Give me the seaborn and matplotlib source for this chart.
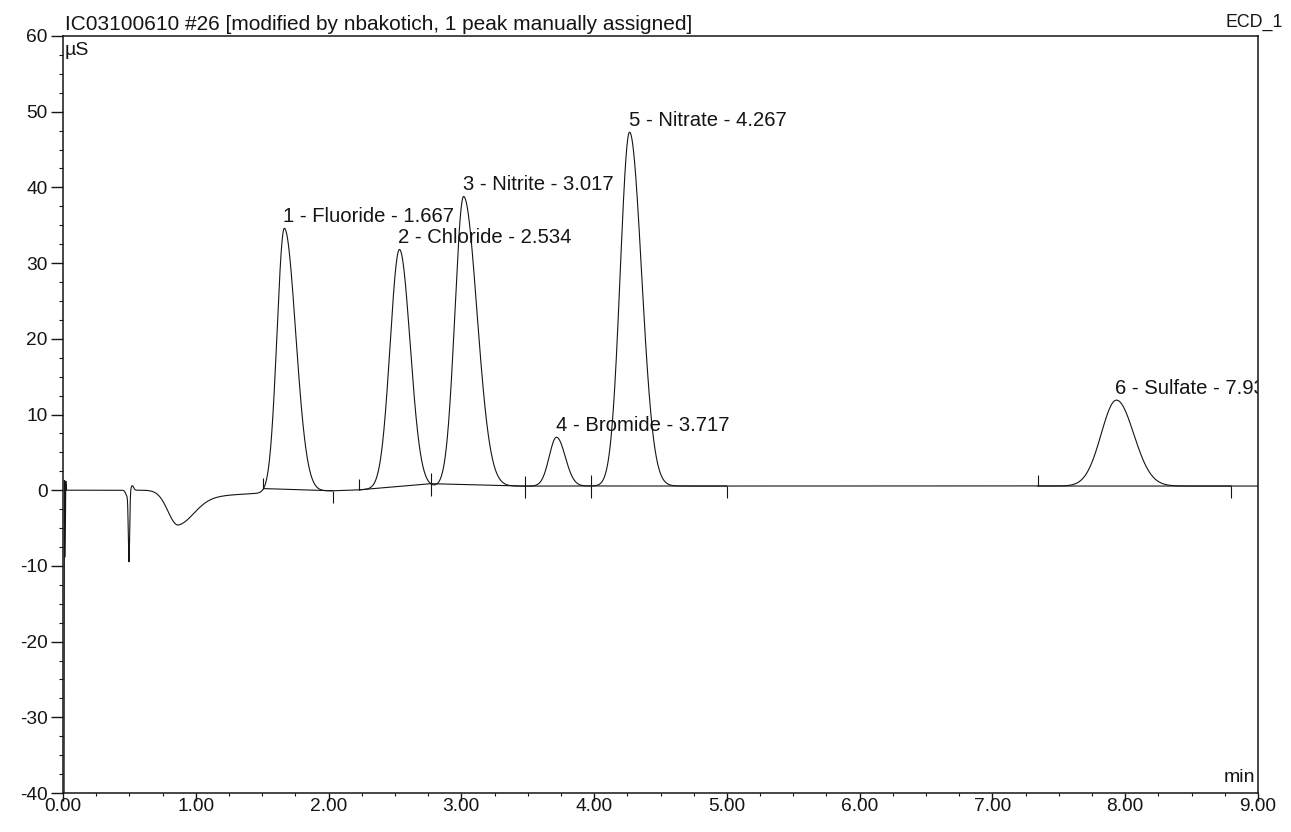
import numpy as np
import pandas as pd
import matplotlib
matplotlib.use("Agg")
import matplotlib.pyplot as plt
from matplotlib.ticker import MultipleLocator, FormatStrFormatter
from matplotlib.transforms import offset_copy
import seaborn as sns

# ---- peak table -------------------------------------------------------
peak_numbers = [1, 2, 3, 4, 5, 6]
peak_names = ["Fluoride", "Chloride", "Nitrite", "Bromide", "Nitrate", "Sulfate"]
retention_times = [1.667, 2.534, 3.017, 3.717, 4.267, 7.934]   # min
apex_heights = [34.6, 31.8, 38.8, 7.0, 47.3, 11.9]             # µS
sigma_left = [0.055, 0.070, 0.065, 0.055, 0.070, 0.115]        # min
sigma_right = [0.085, 0.080, 0.100, 0.065, 0.090, 0.130]       # min

# integration windows (peak start / peak end)
window_start = [1.51, 2.23, 2.77, 3.48, 3.98, 7.34]
window_end = [2.03, 2.77, 3.48, 3.98, 5.00, 8.80]

# injection transient at the very start of the run
inject_t = [0.000, 0.008, 0.011, 0.016, 0.021, 0.027]
inject_y = [-45.0, -45.0, 1.3, -8.8, 1.2, 0.0]

# system disturbance near 0.5 min: centre, amplitude, width
dist_center = [0.485, 0.497, 0.522]
dist_amp = [-0.8, -9.0, 0.6]
dist_sigma = [0.012, 0.005, 0.010]

# water dip: centre, depth, left/right widths, slow recovery tail
dip_center = 0.866
dip_depth = -4.6
dip_sigma_left = 0.075
dip_sigma_right = 0.12
dip_tail_amp = -1.4
dip_tail_tau = 0.5

# baseline drift step
drift_level = 0.55
drift_mid = 2.45
drift_width = 0.2

title = "IC03100610 #26 [modified by nbakotich, 1 peak manually assigned]"
channel = "ECD_1"

# ---- build the detector trace ---------------------------------------
t = np.round(np.arange(0.030, 9.0005, 0.001), 4)

base = np.zeros_like(t)
for c, a, s in zip(dist_center, dist_amp, dist_sigma):
    base += a * np.exp(-0.5 * ((t - c) / s) ** 2)

d = t - dip_center
base += np.where(
    d < 0,
    dip_depth * np.exp(-0.5 * (d / dip_sigma_left) ** 2),
    (dip_depth - dip_tail_amp) * np.exp(-0.5 * (d / dip_sigma_right) ** 2)
    + dip_tail_amp * np.exp(-np.clip(d, 0, None) / dip_tail_tau),
)
base += drift_level / (1 + np.exp(-(t - drift_mid) / drift_width))

signal = base.copy()
for tr, h, sl, sr in zip(retention_times, apex_heights, sigma_left, sigma_right):
    amp = h - np.interp(tr, t, base)
    s = np.where(t < tr, sl, sr)
    signal += amp * np.exp(-0.5 * ((t - tr) / s) ** 2)

df = pd.DataFrame({
    "time": np.concatenate([inject_t, t]),
    "signal": np.concatenate([inject_y, signal]),
})

# ---- figure -----------------------------------------------------------
sns.set_style("ticks")
plt.rcParams["font.family"] = ["Liberation Sans", "DejaVu Sans"]
plt.rcParams["axes.unicode_minus"] = False
ink = "#151515"

W, H = 1291, 832
fig = plt.figure(figsize=(W / 100, H / 100), dpi=100)
ax = fig.add_axes([63 / W, 39 / H, 1195 / W, 757 / H])

sns.lineplot(data=df, x="time", y="signal", estimator=None, sort=False,
             color=ink, linewidth=0.8, ax=ax)

# integration baselines and delimiter marks
for s, e in zip(window_start, window_end):
    ys = np.interp(s, df["time"], df["signal"])
    ye = np.interp(e, df["time"], df["signal"])
    ax.plot([s, e], [ys, ye], color=ink, linewidth=0.8)
    ax.vlines(s, ys, ys + 1.4, color=ink, linewidth=0.8)
    ax.vlines(e, ye - 1.6, ye, color=ink, linewidth=0.8)

# peak labels
label_tf = offset_copy(ax.transData, fig=fig, x=-1, y=6, units="dots")
for n, name, tr, h in zip(peak_numbers, peak_names, retention_times, apex_heights):
    ax.text(tr, h, f"{n} - {name} - {tr:.3f}", transform=label_tf,
            ha="left", va="baseline", fontsize=14.6, color=ink, clip_on=True)

ax.set_xlim(0, 9)
ax.set_ylim(-40, 60)
ax.set_xlabel("")
ax.set_ylabel("")
ax.xaxis.set_major_locator(MultipleLocator(1))
ax.xaxis.set_minor_locator(MultipleLocator(0.25))
ax.xaxis.set_major_formatter(FormatStrFormatter("%.2f"))
ax.yaxis.set_major_locator(MultipleLocator(10))
ax.yaxis.set_minor_locator(MultipleLocator(2.5))

ax.tick_params(axis="x", which="major", direction="out", length=5.8, width=1.0,
               pad=-2.3, labelsize=13.8, colors=ink)
ax.tick_params(axis="x", which="minor", direction="out", length=2.2, width=0.8, colors=ink)
ax.tick_params(axis="y", which="major", direction="out", length=8.6, width=1.0,
               pad=2.5, labelsize=13.8, colors=ink)
ax.tick_params(axis="y", which="minor", direction="out", length=2.8, width=0.8, colors=ink)

for sp in ax.spines.values():
    sp.set_visible(True)
    sp.set_linewidth(1.1)
    sp.set_color(ink)

ax.text(0.0015, 1 + 6 / 757, title, transform=ax.transAxes, ha="left",
        va="baseline", fontsize=15, color=ink)
fig.text(1283 / W, 1 - 27 / H, channel, ha="right", va="baseline",
         fontsize=12.8, color=ink)
ax.text(0.0015, 1 - 19 / 757, "µS", transform=ax.transAxes, ha="left",
        va="baseline", fontsize=14, color=ink)
ax.text(0.9975, 11 / 757, "min", transform=ax.transAxes, ha="right",
        va="baseline", fontsize=14, color=ink)

fig.savefig("out.png", dpi=100)
